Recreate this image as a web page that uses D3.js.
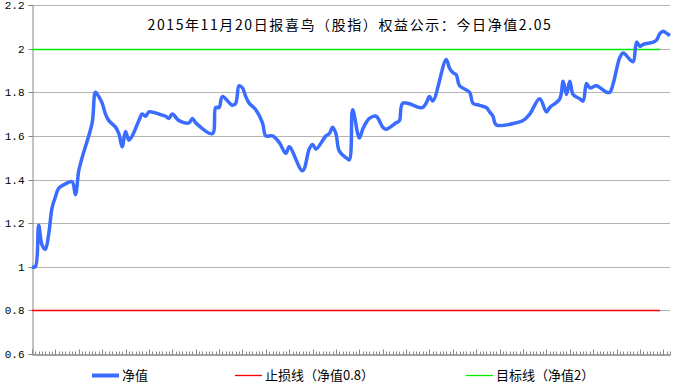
<!DOCTYPE html>
<html>
<head>
<meta charset="utf-8">
<script src="https://cdn.jsdelivr.net/npm/d3@7"></script>
<style>
  body { margin: 0; background: #fff; }
  .tick text { font-family: "Liberation Mono", "DejaVu Sans Mono", monospace; font-size: 11px; fill: #000; }
</style>
</head>
<body>
<div id="chart"></div>
<script>
// chart data
var title = "2015年11月20日报喜鸟（股指）权益公示：今日净值2.05";
var dayCount = 192;
var days = [0, 1, 2, 3, 4, 5, 6, 7, 8, 10, 12, 13, 14, 15, 18, 19, 20, 21, 22, 23, 25, 26, 27, 28, 29, 30, 32, 33, 34, 35, 38, 40, 41, 42, 44, 47, 48, 49, 54, 55, 56, 57, 60, 61, 62, 63, 64, 65, 67, 69, 70, 72, 74, 76, 77, 81, 83, 84, 85, 88, 89, 90, 91, 92, 94, 95, 96, 98, 99, 100, 101, 103, 105, 106, 109, 110, 111, 116, 117, 118, 119, 120, 124, 125, 126, 127, 128, 131, 132, 134, 136, 137, 138, 139, 145, 147, 149, 152, 154, 155, 158, 159, 160, 161, 162, 164, 165, 166, 167, 169, 172, 173, 174, 176, 177, 179, 180, 181, 182, 183, 186, 187, 188, 189, 190, 191];
var nav = [1.00, 1.00, 1.19, 1.10, 1.08, 1.15, 1.27, 1.32, 1.36, 1.38, 1.39, 1.33, 1.44, 1.50, 1.66, 1.80, 1.78, 1.75, 1.70, 1.67, 1.64, 1.61, 1.55, 1.62, 1.58, 1.60, 1.67, 1.70, 1.69, 1.71, 1.70, 1.69, 1.68, 1.70, 1.67, 1.66, 1.68, 1.66, 1.61, 1.73, 1.73, 1.78, 1.74, 1.75, 1.83, 1.82, 1.78, 1.75, 1.72, 1.66, 1.60, 1.60, 1.57, 1.52, 1.55, 1.44, 1.54, 1.56, 1.54, 1.60, 1.61, 1.64, 1.61, 1.53, 1.50, 1.49, 1.72, 1.59, 1.63, 1.66, 1.68, 1.69, 1.64, 1.63, 1.66, 1.67, 1.75, 1.73, 1.73, 1.75, 1.78, 1.76, 1.95, 1.91, 1.89, 1.88, 1.83, 1.80, 1.75, 1.74, 1.73, 1.71, 1.69, 1.65, 1.66, 1.67, 1.70, 1.77, 1.71, 1.73, 1.77, 1.85, 1.79, 1.85, 1.79, 1.77, 1.76, 1.84, 1.82, 1.83, 1.80, 1.80, 1.84, 1.96, 1.98, 1.95, 1.94, 2.03, 2.01, 2.02, 2.03, 2.04, 2.07, 2.08, 2.07, 2.06];
var guideDays = [0, 188];
var guideValues = [0.8, 2];
var guideColors = ["#ff0000", "#00ee00"];
var yTicks = [0.6, 0.8, 1, 1.2, 1.4, 1.6, 1.8, 2, 2.2];
var legendNames = ["净值", "止损线（净值0.8）", "目标线（净值2）"];

var width = 693, height = 389;
var plotLeft = 32, plotRight = 670, plotTop = 5, plotBottom = 354;

var svg = d3.select("#chart").append("svg")
    .attr("width", width)
    .attr("height", height)
    .style("display", "block");

var x = d3.scaleLinear().domain([0, dayCount - 1]).range([plotLeft, plotRight]);
var y = d3.scaleLinear().domain([0.6, 2.2]).range([plotBottom, plotTop]);

function py(v) { return Math.round(y(v)) + 0.5; }

// grid lines; where a guide line sits, only the part past its end is grey
svg.append("g")
    .selectAll("line")
    .data(yTicks.slice(1))
    .enter()
    .append("line")
    .attr("x1", function (d) { return guideValues.indexOf(d) >= 0 ? x(guideDays[1]) : plotLeft; })
    .attr("x2", plotRight)
    .attr("y1", function (d) { return py(d); })
    .attr("y2", function (d) { return py(d); })
    .attr("stroke", "#b4b4b4");

// y axis
var yAxis = svg.append("g")
    .attr("transform", "translate(" + (plotLeft + 0.5) + ",0)")
    .call(d3.axisLeft(y).tickValues(yTicks).tickSize(4).tickPadding(4)
        .tickFormat(function (d) { return String(Math.round(d * 10) / 10); }));
yAxis.select(".domain").attr("stroke", "#868686");
yAxis.selectAll(".tick line").attr("stroke", "#868686");
yAxis.selectAll(".tick").attr("transform", function (d) { return "translate(0," + py(d) + ")"; });

// x axis: minor tick each day, major every 7
var minor = svg.append("g")
    .attr("transform", "translate(0," + (plotBottom + 0.5) + ")")
    .call(d3.axisBottom(x).tickValues(d3.range(0, dayCount)).tickSize(-3).tickSizeOuter(0).tickFormat(""));
var major = svg.append("g")
    .attr("transform", "translate(0," + (plotBottom + 0.5) + ")")
    .call(d3.axisBottom(x).tickValues(d3.range(0, dayCount, 7)).tickSize(-5).tickSizeOuter(0).tickFormat(""));
minor.selectAll("line, path").attr("stroke", "#868686");
major.selectAll("line, path").attr("stroke", "#868686");
minor.selectAll(".tick").attr("transform", function (d) { return "translate(" + (Math.round(x(d)) + 0.5) + ",0)"; });
major.selectAll(".tick").attr("transform", function (d) { return "translate(" + (Math.round(x(d)) + 0.5) + ",0)"; });

// stop loss and target lines
svg.append("g")
    .selectAll("line")
    .data(guideValues)
    .enter()
    .append("line")
    .attr("x1", x(guideDays[0]))
    .attr("x2", x(guideDays[1]))
    .attr("y1", function (d) { return py(d); })
    .attr("y2", function (d) { return py(d); })
    .attr("stroke", function (d, i) { return guideColors[i]; })
    .attr("stroke-width", 1.3);

// net value line
var line = d3.line()
    .x(function (d, i) { return x(days[i]); })
    .y(function (d) { return y(d); })
    .curve(d3.curveCatmullRom.alpha(0.5));
svg.append("path")
    .datum(nav)
    .attr("d", line)
    .attr("fill", "none")
    .attr("stroke", "#3a6cff")
    .attr("stroke-width", 3.5)
    .attr("stroke-linejoin", "round");

// title
svg.append("text")
    .attr("x", 350)
    .attr("y", 30)
    .attr("text-anchor", "middle")
    .style("font-family", "'Noto Sans CJK SC'")
    .style("font-size", "14px")
    .style("letter-spacing", "1.6px")
    .text(title);

// legend
var legendX = [92, 235, 466];
var legendColors = ["#3a6cff"].concat(guideColors);
var legendWidths = [4, 1.3, 1.3];
legendNames.forEach(function (name, i) {
    svg.append("line")
        .attr("x1", legendX[i]).attr("x2", legendX[i] + 27)
        .attr("y1", 375.5).attr("y2", 375.5)
        .attr("stroke", legendColors[i])
        .attr("stroke-width", legendWidths[i]);
    svg.append("text")
        .attr("x", legendX[i] + 30)
        .attr("y", 380)
        .style("font-family", "'Noto Sans CJK SC'")
        .style("font-size", "13px")
        .text(name);
});
</script>
</body>
</html>
